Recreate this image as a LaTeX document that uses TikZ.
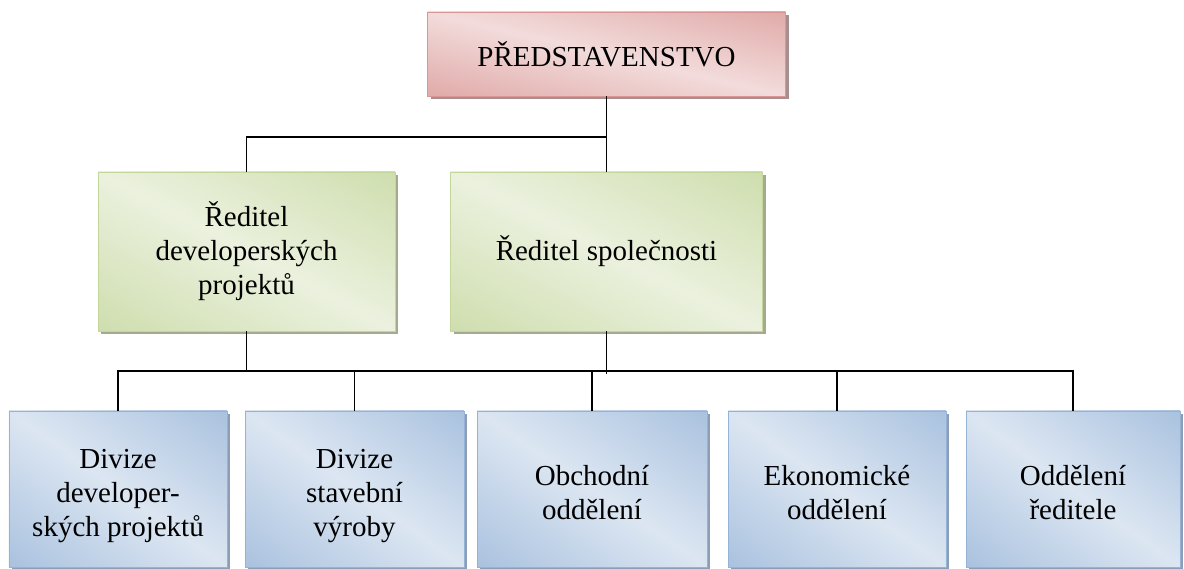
\documentclass[tikz,border=0pt]{standalone}
\usepackage{fontspec}
\setmainfont{Liberation Serif}
\definecolor{pinkD}{HTML}{D99694}
\definecolor{pinkL}{HTML}{F2DCDB}
\definecolor{pinkS}{HTML}{A88E8E}
\definecolor{greenD}{HTML}{C3D69B}
\definecolor{greenL}{HTML}{EBF1DE}
\definecolor{greenS}{HTML}{A3AA8E}
\definecolor{blueD}{HTML}{95B3D7}
\definecolor{blueL}{HTML}{DCE6F2}
\definecolor{blueS}{HTML}{8D9DB5}
\pgfdeclarehorizontalshading{pinkgrad}{100bp}{color(0bp)=(pinkD); color(50bp)=(pinkL); color(100bp)=(pinkD)}
\pgfdeclarehorizontalshading{greengrad}{100bp}{color(0bp)=(greenD); color(50bp)=(greenL); color(100bp)=(greenD)}
\pgfdeclarehorizontalshading{bluegrad}{100bp}{color(0bp)=(blueD); color(50bp)=(blueL); color(100bp)=(blueD)}
\newcommand{\topstr}{\rule{0pt}{33.8pt}}
\newcommand{\botstr}{\rule[-6.3pt]{0pt}{6.3pt}}
\tikzset{
  gradbox/.style n args={3}{rectangle, inner sep=0pt, align=center,
    minimum width=#1pt, minimum height=#2pt, draw=#3D, line width=0.8pt,
    font=\fontsize{29}{34}\selectfont},
  boxshadow/.style={fill=#1S},
  boxshade/.style={shading=#1grad, shading angle=45},
  conn/.style={draw=black, line width=1.5pt}
}
% name, cx, cy, w, h, colour family, text
\newcommand{\orgbox}[7]{%
  \fill[boxshadow=#6] (#2-#4/2+3,#3-#5/2+3) rectangle (#2+#4/2+3,#3+#5/2+3);
  \shade[boxshade=#6, transform canvas={shift={(#2,#3)}, xscale=#4/2, yscale=#5/2}]
    (-1,-1) rectangle (1,1);
  \node[gradbox={#4}{#5}{#6}] (#1) at (#2,#3) {#7};
}
\begin{document}
\begin{tikzpicture}[x=1pt,y=-1pt]
\useasboundingbox (0,0) rectangle (1184,569);
\orgbox{top}{606.5}{54}{358}{84}{pink}{PŘEDSTAVENSTVO}
\orgbox{ld}{246.5}{251.5}{297}{159}{green}{Ředitel\\developerských\\projektů}
\orgbox{rd}{606.5}{251.5}{312}{159}{green}{Ředitel společnosti}
\orgbox{b1}{118}{489}{218}{156}{blue}{\topstr Divize\\developer-\\ských projektů\botstr}
\orgbox{b2}{354.5}{489}{219}{156}{blue}{\topstr Divize\\stavební\\výroby\botstr}
\orgbox{b3}{592}{489}{230}{156}{blue}{\topstr Obchodní\\oddělení\botstr}
\orgbox{b4}{837}{489}{218}{156}{blue}{\topstr Ekonomické\\oddělení\botstr}
\orgbox{b5}{1073}{489}{214}{156}{blue}{\topstr Oddělení\\ředitele\botstr}
\coordinate (j1) at (606.5,137);
\coordinate (bus) at (0,371);
\draw[conn] (top.south) -- (rd.north);
\draw[conn] (j1) -| (ld.north);
\draw[conn] (ld.south) -- (ld.south |- bus);
\draw[conn] (rd.south) -- ([yshift=-3pt]rd.south |- bus);
\draw[conn] (b1.north) |- (b5.north |- bus) -- (b5.north);
\draw[conn] (b2.north) -- (b2.north |- bus);
\draw[conn] (b3.north) -- (b3.north |- bus);
\draw[conn] (b4.north) -- (b4.north |- bus);
\end{tikzpicture}
\end{document}
